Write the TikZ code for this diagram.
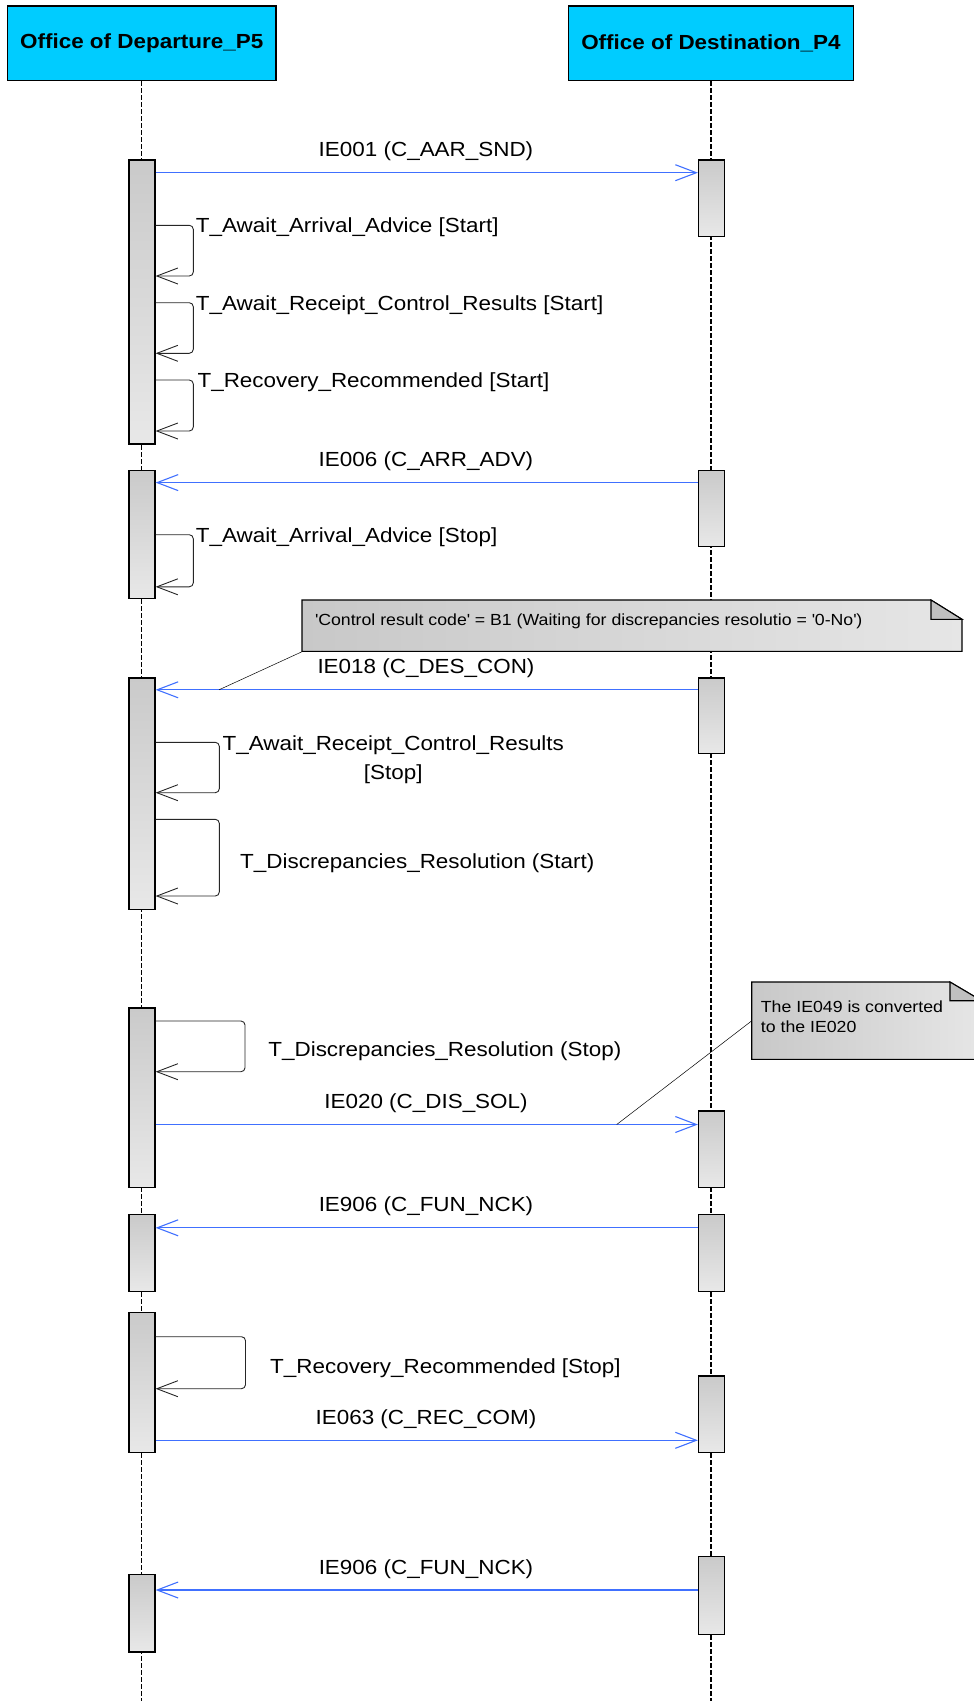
\documentclass[tikz,border=0pt]{standalone}
\usepackage{fontspec}
\setmainfont{Liberation Sans}[FakeStretch=1.1]
\usetikzlibrary{arrows.meta}
\definecolor{hdr}{RGB}{0,204,255}
\definecolor{msgblue}{RGB}{64,112,255}
\definecolor{bartop}{RGB}{202,202,202}
\definecolor{barbot}{RGB}{232,232,232}
\definecolor{noteleft}{RGB}{200,200,200}
\definecolor{noteright}{RGB}{230,230,230}
\definecolor{foldfill}{RGB}{192,192,192}
\tikzset{
  hdrbox/.style={draw=black, line width=1.3pt, fill=hdr, minimum width=268.5pt, minimum height=74.7pt, inner sep=0pt, font=\fontsize{20.4}{24}\selectfont\bfseries},
  actbar/.style={draw=black, line width=1.2pt, top color=bartop, bottom color=barbot, minimum width=26pt, inner sep=0pt},
  lifeline/.style={draw=black, line width=1.1pt, dash pattern=on 4.5pt off 2.5pt},
  msg/.style={draw=msgblue, line width=1.1pt, -{Straight Barb[length=21pt,width=16pt]}},
  selfmsg/.style={draw=black!85, line width=0.9pt, rounded corners=4pt, -{Straight Barb[length=21pt,width=16pt]}},
  lbl/.style={inner sep=0pt, font=\fontsize{20.4}{28.4}\selectfont},
  notetxt/.style={inner sep=0pt, font=\fontsize{16.1}{20.4}\selectfont, align=left},
  notebody/.style={draw=black, line width=1.1pt, left color=noteleft, right color=noteright},
  notefold/.style={draw=black, line width=1.1pt, fill=foldfill, line join=miter},
  notelink/.style={draw=black, line width=0.5pt},
}
\begin{document}
\begin{tikzpicture}[x=1pt,y=-1pt]
\useasboundingbox (0,0) rectangle (974,1701);
% headers
\node[hdrbox] (H1) at (141.75,43.35) {Office of Departure\_P5};
\node[hdrbox, minimum width=285.3pt] (H2) at (710.95,43.35) {Office of Destination\_P4};
\coordinate (bottom) at (0,1701);
\draw[lifeline] (H1.south) -- (H1.south |- bottom);
\draw[lifeline] (H2.south) -- (H2.south |- bottom);
% activation bars
\node[actbar, minimum height=284pt] (L1) at (142,302) {};
\node[actbar, minimum height=76.5pt] (R1) at (711.5,198.25) {};
\node[actbar, minimum height=128pt] (L2) at (142,534.7) {};
\node[actbar, minimum height=75.9pt] (R2) at (711.5,508.65) {};
\node[actbar, minimum height=231.6pt] (L3) at (142,793.7) {};
\node[actbar, minimum height=75.9pt] (R3) at (711.5,715.85) {};
\node[actbar, minimum height=179.6pt] (L4) at (142,1097.8) {};
\node[actbar, minimum height=76.6pt] (R4) at (711.5,1149.3) {};
\node[actbar, minimum height=77pt] (L5) at (142,1253.3) {};
\node[actbar, minimum height=77pt] (R5) at (711.5,1253.3) {};
\node[actbar, minimum height=139.6pt] (L6) at (142,1382.5) {};
\node[actbar, minimum height=76.3pt] (R6) at (711.5,1414.15) {};
\node[actbar, minimum height=77.7pt] (L7) at (142,1613.15) {};
\node[actbar, minimum height=78pt] (R7) at (711.5,1595.7) {};
% message y coordinates
\coordinate (m1) at (0,172.7);
\coordinate (m2) at (0,482.6);
\coordinate (m3) at (0,689.8);
\coordinate (m4) at (0,1124.5);
\coordinate (m5) at (0,1227.8);
\coordinate (m6) at (0,1440.3);
\coordinate (m7) at (0,1590);
% messages
\draw[msg] (L1.east |- m1) -- (R1.west |- m1);
\node[lbl, anchor=base] (t1) at (426,156.7) {IE001 (C\_AAR\_SND)};
\draw[msg] (R2.west |- m2) -- (L2.east |- m2);
\node[lbl, anchor=base] (t2) at (426,466.6) {IE006 (C\_ARR\_ADV)};
\draw[msg] (R3.west |- m3) -- (L3.east |- m3);
\node[lbl, anchor=base] (t3) at (426,673.6) {IE018 (C\_DES\_CON)};
\draw[msg] (L4.east |- m4) -- (R4.west |- m4);
\node[lbl, anchor=base] (t4) at (426,1108.5) {IE020 (C\_DIS\_SOL)};
\draw[msg] (R5.west |- m5) -- (L5.east |- m5);
\node[lbl, anchor=base] (t5) at (426,1211.8) {IE906 (C\_FUN\_NCK)};
\draw[msg] (L6.east |- m6) -- (R6.west |- m6);
\node[lbl, anchor=base] (t6) at (426,1424.3) {IE063 (C\_REC\_COM)};
\draw[msg] (R7.west |- m7) -- (L7.east |- m7);
\node[lbl, anchor=base] (t7) at (426,1574) {IE906 (C\_FUN\_NCK)};
% self messages
\coordinate (s1a) at (193.3,225.3); \coordinate (s1b) at (193.3,276);
\draw[selfmsg] (L1.east |- s1a) -- (s1a) -- (s1b) -- (L1.east |- s1b);
\node[lbl, anchor=base west] (u1) at (195.7,232.7) {T\_Await\_Arrival\_Advice [Start]};
\coordinate (s2a) at (193.3,302.7); \coordinate (s2b) at (193.3,353.3);
\draw[selfmsg] (L1.east |- s2a) -- (s2a) -- (s2b) -- (L1.east |- s2b);
\node[lbl, anchor=base west] (u2) at (195.7,310) {T\_Await\_Receipt\_Control\_Results [Start]};
\coordinate (s3a) at (193.3,380); \coordinate (s3b) at (193.3,431);
\draw[selfmsg] (L1.east |- s3a) -- (s3a) -- (s3b) -- (L1.east |- s3b);
\node[lbl, anchor=base west] (u3) at (197.4,387.3) {T\_Recovery\_Recommended [Start]};
\coordinate (s4a) at (193.3,534.7); \coordinate (s4b) at (193.3,586.8);
\draw[selfmsg] (L2.east |- s4a) -- (s4a) -- (s4b) -- (L2.east |- s4b);
\node[lbl, anchor=base west] (u4) at (195.7,542) {T\_Await\_Arrival\_Advice [Stop]};
\coordinate (s5a) at (219.3,742.3); \coordinate (s5b) at (219.3,792.7);
\draw[selfmsg] (L3.east |- s5a) -- (s5a) -- (s5b) -- (L3.east |- s5b);
\node[lbl, anchor=north, align=center] (u5) at (393.3,735.8) {T\_Await\_Receipt\_Control\_Results\\{}[Stop]};
\coordinate (s6a) at (219.3,819.3); \coordinate (s6b) at (219.3,896);
\draw[selfmsg] (L3.east |- s6a) -- (s6a) -- (s6b) -- (L3.east |- s6b);
\node[lbl, anchor=base west] (u6) at (240,868.3) {T\_Discrepancies\_Resolution (Start)};
\coordinate (s7a) at (245,1021); \coordinate (s7b) at (245,1071.7);
\draw[selfmsg] (L4.east |- s7a) -- (s7a) -- (s7b) -- (L4.east |- s7b);
\node[lbl, anchor=base west] (u7) at (268.2,1056.7) {T\_Discrepancies\_Resolution (Stop)};
\coordinate (s8a) at (245.5,1336.7); \coordinate (s8b) at (245.5,1388.7);
\draw[selfmsg] (L6.east |- s8a) -- (s8a) -- (s8b) -- (L6.east |- s8b);
\node[lbl, anchor=base west] (u8) at (270,1373) {T\_Recovery\_Recommended [Stop]};
% note 1
\path[notebody] (302,600) -- (931,600) -- (962,619.3) -- (962,651.3) -- (302,651.3) -- cycle;
\path[notefold] (931,600) -- (931,619.3) -- (962,619.3) -- cycle;
\node[inner sep=0pt, minimum width=660pt, minimum height=51.3pt, anchor=north west] (N1) at (302,600) {};
\node[notetxt, anchor=base west] (N1t) at (315,625) {\textquotesingle Control result code\textquotesingle{} = B1 (Waiting for discrepancies resolutio = \textquotesingle 0-No\textquotesingle )};
\coordinate (c1) at (219,689.8);
\draw[notelink] (N1.south west) -- (c1);
% note 2
\path[notebody] (751.7,982) -- (950,982) -- (981.6,1000.7) -- (981.6,1059.3) -- (751.7,1059.3) -- cycle;
\path[notefold] (950,982) -- (950,1000.7) -- (981.6,1000.7) -- cycle;
\node[inner sep=0pt, minimum width=229.9pt, minimum height=77.3pt, anchor=north west] (N2) at (751.7,982) {};
\node[notetxt, anchor=north west] (N2t) at (760.7,1000.3) {The IE049 is converted\\to the IE020};
\coordinate (c2) at (616.7,1124.5);
\draw[notelink] (N2.west) -- (c2);
\end{tikzpicture}
\end{document}
